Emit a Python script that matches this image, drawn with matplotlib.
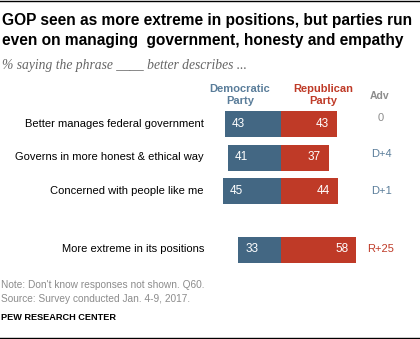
import matplotlib
matplotlib.use("Agg")
import matplotlib.pyplot as plt

# ─── data ─────────────────────────────────────────────────────────────────────
categories = [
    "Better manages federal government",
    "Governs in more honest & ethical way",
    "Concerned with people like me",
    "More extreme in its positions",
]
dem = [43, 41, 45, 33]
rep = [43, 37, 44, 58]
adv = ["0", "D+4", "D+1", "R+25"]

DEM_C = "#436783"
REP_C = "#bf3a27"
ADV_D = "#5a7d9a"
GREY = "#8c8c8c"

W, H = 420, 339
row_y = [124, 157.5, 191, 249.5]   # pixel rows (layout)
adv_dy = [-6, -3.5, 0, 0]
BAR_H = 26
X0 = 281        # pixel position of the split
SCALE = 1.3     # pixels per percentage point

plt.rcParams["font.family"] = ["Liberation Sans", "DejaVu Sans"]

fig = plt.figure(figsize=(W / 100, H / 100), dpi=100)
ax = fig.add_axes([0, 0, 1, 1])
ax.set_xlim(-X0 / SCALE, (W - X0) / SCALE)
ax.set_ylim(H, 0)
ax.axis("off")

ax.barh(row_y, [-d for d in dem], height=BAR_H, color=DEM_C, left=0)
ax.barh(row_y, rep, height=BAR_H, color=REP_C, left=0)

px = 1 / SCALE
for y, lab, d, r, a, dy in zip(row_y, categories, dem, rep, adv, adv_dy):
    ax.text((204 - X0) * px, y, lab, ha="right", va="center", fontsize=8, color="black")
    ax.text(-d + 7 * px, y, str(d), ha="left", va="center", fontsize=8.5, color="white")
    ax.text(r - 8 * px, y, str(r), ha="right", va="center", fontsize=8.5, color="white")
    col = REP_C if a.startswith("R") else (ADV_D if a.startswith("D") else GREY)
    ax.text((381 - X0) * px, y + dy, a, ha="center", va="center", fontsize=8, color=col)

# headers
ax.text((240 - X0) * px, 95, "Democratic\nParty", ha="center", va="center",
        fontsize=8, fontweight="bold", color=ADV_D, linespacing=1.25)
ax.text((323 - X0) * px, 95, "Republican\nParty", ha="center", va="center",
        fontsize=8, fontweight="bold", color=REP_C, linespacing=1.25)
ax.text((380 - X0) * px, 96, "Adv", ha="center", va="center",
        fontsize=7.5, fontweight="bold", color=GREY)

# title / subtitle
fig.text(2 / W, 1 - 13 / H, "GOP seen as more extreme in positions, but parties run\n"
         "even on managing  government, honesty and empathy",
         ha="left", va="top", fontsize=11.2, fontweight="bold", color="black",
         linespacing=1.45)
fig.text(2 / W, 1 - 65 / H, "% saying the phrase ____ better describes ...",
         ha="left", va="center", fontsize=9.8, style="italic", color="#666666",
         family="Liberation Serif")

# notes
fig.text(1 / W, 1 - 285 / H, "Note: Don't know responses not shown. Q60.",
         ha="left", va="center", fontsize=7.3, color=GREY)
fig.text(1 / W, 1 - 299 / H, "Source: Survey conducted Jan. 4-9, 2017.",
         ha="left", va="center", fontsize=7.3, color=GREY)
fig.text(1 / W, 1 - 317 / H, "PEW RESEARCH CENTER",
         ha="left", va="center", fontsize=6.6, fontweight="bold", color="black")

# rules top and bottom
fig.add_artist(plt.Line2D([0, 1], [1 - 0.5 / H, 1 - 0.5 / H], color="black", lw=1))
fig.add_artist(plt.Line2D([0, 1], [1 - 337.5 / H, 1 - 337.5 / H], color="black", lw=1))

fig.savefig("out.png", dpi=100)
